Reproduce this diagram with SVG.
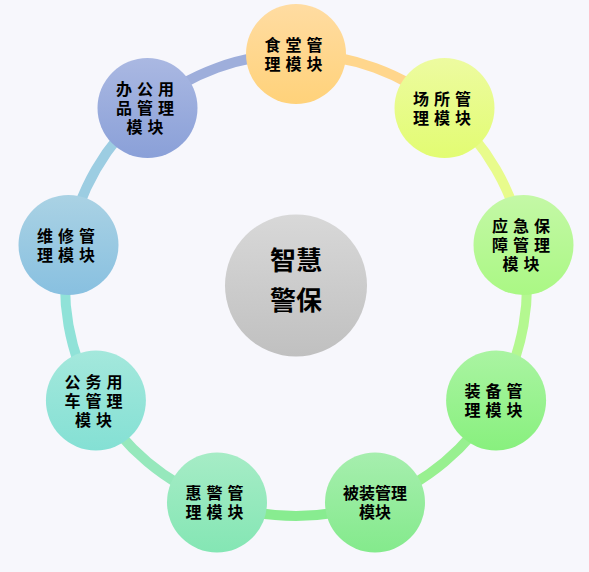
<svg xmlns="http://www.w3.org/2000/svg" width="589" height="572" viewBox="0 0 589 572">
<defs>
<style>
.ring{fill:none;stroke-width:10}
.t{font-family:"Noto Sans CJK SC","Noto Sans",sans-serif;font-size:16px;font-weight:bold;fill:#000;text-anchor:middle;letter-spacing:5px}
.t0{letter-spacing:0}
.c{font-family:"Noto Sans CJK SC","Noto Sans",sans-serif;font-size:26px;font-weight:bold;fill:#000;text-anchor:middle}
</style>
<linearGradient id="gS" x1="0" y1="0" x2="0" y2="1"><stop offset="0" stop-color="#ffdca2"/><stop offset="1" stop-color="#ffd27a"/></linearGradient>
<linearGradient id="gC" x1="0" y1="0" x2="0" y2="1"><stop offset="0" stop-color="#edfba0"/><stop offset="1" stop-color="#e2fc72"/></linearGradient>
<linearGradient id="gY" x1="0" y1="0" x2="0" y2="1"><stop offset="0" stop-color="#c4f8a6"/><stop offset="1" stop-color="#aaf884"/></linearGradient>
<linearGradient id="gZ" x1="0" y1="0" x2="0" y2="1"><stop offset="0" stop-color="#aaf4a2"/><stop offset="1" stop-color="#88f07e"/></linearGradient>
<linearGradient id="gB" x1="0" y1="0" x2="0" y2="1"><stop offset="0" stop-color="#a6eeae"/><stop offset="1" stop-color="#84ea8c"/></linearGradient>
<linearGradient id="gH" x1="0" y1="0" x2="0" y2="1"><stop offset="0" stop-color="#a6ecc6"/><stop offset="1" stop-color="#84e6b4"/></linearGradient>
<linearGradient id="gG" x1="0" y1="0" x2="0" y2="1"><stop offset="0" stop-color="#a4e8dc"/><stop offset="1" stop-color="#84e0d4"/></linearGradient>
<linearGradient id="gW" x1="0" y1="0" x2="0" y2="1"><stop offset="0" stop-color="#aad2e4"/><stop offset="1" stop-color="#88c0e0"/></linearGradient>
<linearGradient id="gO" x1="0" y1="0" x2="0" y2="1"><stop offset="0" stop-color="#aab8e2"/><stop offset="1" stop-color="#8aa0d8"/></linearGradient>
<linearGradient id="gM" x1="0" y1="0" x2="0" y2="1"><stop offset="0" stop-color="#d8d8d8"/><stop offset="1" stop-color="#c0c0c0"/></linearGradient>
</defs>
<rect width="589" height="572" fill="#f7f7fc"/>
<g id="connectors">
<path class="ring" stroke="#ffd68c" d="M296,54 A231,231 0 0 1 444.5,108"/>
<path class="ring" stroke="#e8fb8c" d="M444.5,108 A231,231 0 0 1 523.5,244.9"/>
<path class="ring" stroke="#b4f890" d="M523.5,244.9 A231,231 0 0 1 496.1,400.5"/>
<path class="ring" stroke="#98f090" d="M496.1,400.5 A231,231 0 0 1 375,502.1"/>
<path class="ring" stroke="#88ec90" d="M375,502.1 A231,231 0 0 1 217,502.1"/>
<path class="ring" stroke="#96e8bc" d="M217,502.1 A231,231 0 0 1 95.9,400.5"/>
<path class="ring" stroke="#90e2d8" d="M95.9,400.5 A231,231 0 0 1 68.5,244.9"/>
<path class="ring" stroke="#9ccde2" d="M68.5,244.9 A231,231 0 0 1 147.5,108"/>
<path class="ring" stroke="#9eaedb" d="M147.5,108 A231,231 0 0 1 296,54"/>
</g>
<g id="center">
<circle cx="296" cy="285.5" r="71" fill="url(#gM)"/>
<text class="c" x="296" y="270">智慧</text>
<text class="c" x="296" y="310">警保</text>
</g>
<g id="shitang">
<circle cx="296" cy="54" r="50" fill="url(#gS)"/>
<text class="t" x="296" y="50.5">食堂管</text>
<text class="t" x="296" y="69.5">理模块</text>
</g>
<g id="changsuo">
<circle cx="444.5" cy="108" r="50" fill="url(#gC)"/>
<text class="t" x="444.5" y="104.5">场所管</text>
<text class="t" x="444.5" y="123.5">理模块</text>
</g>
<g id="yingji">
<circle cx="523.5" cy="245" r="50" fill="url(#gY)"/>
<text class="t" x="523.5" y="232">应急保</text>
<text class="t" x="523.5" y="251">障管理</text>
<text class="t" x="523.5" y="270">模块</text>
</g>
<g id="zhuangbei">
<circle cx="496.1" cy="400.5" r="50" fill="url(#gZ)"/>
<text class="t" x="496.1" y="397">装备管</text>
<text class="t" x="496.1" y="416">理模块</text>
</g>
<g id="beizhuang">
<circle cx="375" cy="502.5" r="50" fill="url(#gB)"/>
<text class="t t0" x="375" y="499">被装管理</text>
<text class="t t0" x="375" y="518">模块</text>
</g>
<g id="huijing">
<circle cx="217" cy="502.5" r="50" fill="url(#gH)"/>
<text class="t" x="217" y="499">惠警管</text>
<text class="t" x="217" y="518">理模块</text>
</g>
<g id="gongwu">
<circle cx="95.9" cy="400.5" r="50" fill="url(#gG)"/>
<text class="t" x="95.9" y="387.5">公务用</text>
<text class="t" x="95.9" y="406.5">车管理</text>
<text class="t" x="95.9" y="425.5">模块</text>
</g>
<g id="weixiu">
<circle cx="68.5" cy="245" r="50" fill="url(#gW)"/>
<text class="t" x="68.5" y="241.5">维修管</text>
<text class="t" x="68.5" y="260.5">理模块</text>
</g>
<g id="bangong">
<circle cx="147.5" cy="108" r="50" fill="url(#gO)"/>
<text class="t" x="147.5" y="95">办公用</text>
<text class="t" x="147.5" y="114">品管理</text>
<text class="t" x="147.5" y="133">模块</text>
</g>
</svg>
